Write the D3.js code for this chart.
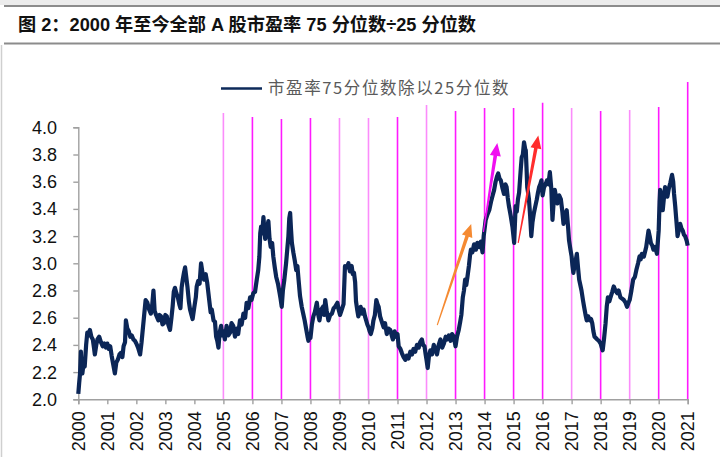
<!DOCTYPE html>
<html>
<head>
<meta charset="utf-8">
<title>市盈率75分位数除以25分位数</title>
<script src="https://cdn.jsdelivr.net/npm/d3@7"></script>
<style>
  body { margin: 0; background: #fff; }
  svg { display: block; }
  text { font-family: "Liberation Sans", Arial, "Noto Sans CJK SC", sans-serif; }
</style>
</head>
<body>
<div id="chart"></div>
<script>
// time in decimal years
const years = [
  2000.00,2000.03,2000.06,2000.09,2000.11,2000.14,2000.18,2000.22,2000.27,2000.31,2000.36,2000.40,2000.45,2000.50,2000.54,2000.57,2000.62,2000.66,2000.72,2000.78,2000.84,2000.90,2000.95,
  2001.00,2001.05,2001.10,2001.15,2001.20,2001.26,2001.31,2001.36,2001.42,2001.46,2001.52,2001.56,2001.61,2001.64,2001.69,2001.74,2001.79,2001.84,2001.90,2001.95,
  2002.00,2002.06,2002.13,2002.18,2002.22,2002.27,2002.32,2002.38,2002.44,2002.50,2002.55,2002.59,2002.63,2002.68,2002.76,2002.80,2002.85,2002.90,2002.95,
  2003.00,2003.05,2003.10,2003.16,2003.21,2003.25,2003.29,2003.33,2003.38,2003.43,2003.48,2003.52,2003.56,2003.60,2003.64,2003.68,2003.72,2003.76,2003.81,2003.85,2003.90,2003.94,
  2004.00,2004.05,2004.08,2004.13,2004.18,2004.23,2004.28,2004.33,2004.39,2004.44,2004.50,2004.56,2004.60,2004.66,2004.71,2004.75,2004.79,2004.83,2004.87,2004.92,2004.96,
  2005.00,2005.05,2005.11,2005.17,2005.23,2005.28,2005.34,2005.40,2005.46,2005.51,2005.57,2005.63,2005.69,2005.75,2005.80,2005.86,2005.92,2005.97,
  2006.03,2006.09,2006.15,2006.20,2006.24,2006.27,2006.30,2006.34,2006.38,2006.41,2006.44,2006.50,2006.55,2006.59,2006.63,2006.68,2006.72,2006.77,2006.82,2006.88,2006.93,2006.97,
  2007.01,2007.05,2007.10,2007.16,2007.20,2007.24,2007.27,2007.30,2007.33,2007.36,2007.41,2007.46,2007.51,2007.55,2007.59,2007.64,2007.70,2007.76,2007.80,2007.85,2007.90,2007.93,2007.97,
  2008.00,2008.05,2008.10,2008.15,2008.22,2008.27,2008.31,2008.37,2008.43,2008.47,2008.51,2008.56,2008.62,2008.68,2008.74,2008.80,2008.85,2008.93,2008.97,
  2009.02,2009.08,2009.14,2009.19,2009.25,2009.31,2009.36,2009.42,2009.46,2009.50,2009.54,2009.57,2009.61,2009.65,2009.69,2009.73,2009.78,2009.83,2009.88,2009.92,2009.96,
  2010.00,2010.04,2010.08,2010.13,2010.17,2010.22,2010.27,2010.31,2010.35,2010.40,2010.46,2010.52,2010.57,2010.63,2010.69,2010.75,2010.80,2010.84,2010.90,2010.95,
  2011.00,2011.04,2011.10,2011.15,2011.21,2011.27,2011.32,2011.38,2011.44,2011.50,2011.55,2011.61,2011.67,2011.73,2011.78,2011.84,2011.88,2011.93,2011.97,
  2012.00,2012.04,2012.08,2012.13,2012.19,2012.25,2012.30,2012.36,2012.42,2012.48,2012.54,2012.60,2012.66,2012.71,2012.77,2012.83,2012.88,2012.94,
  2013.00,2013.05,2013.11,2013.16,2013.20,2013.25,2013.29,2013.33,2013.37,2013.41,2013.46,2013.50,2013.53,2013.58,2013.64,2013.70,2013.75,2013.81,2013.87,2013.93,2013.97,
  2014.04,2014.10,2014.16,2014.22,2014.28,2014.33,2014.38,2014.43,2014.47,2014.52,2014.56,2014.62,2014.67,2014.72,2014.76,2014.80,2014.84,2014.90,2014.96,
  2015.02,2015.07,2015.11,2015.15,2015.19,2015.22,2015.25,2015.28,2015.32,2015.36,2015.40,2015.42,2015.45,2015.47,2015.50,2015.53,2015.57,2015.61,2015.65,2015.70,2015.75,2015.80,2015.84,2015.88,2015.92,2015.96,
  2016.00,2016.05,2016.10,2016.15,2016.20,2016.25,2016.30,2016.34,2016.38,2016.42,2016.47,2016.51,2016.57,2016.63,2016.68,2016.72,2016.78,2016.83,2016.88,2016.91,2016.96,
  2017.00,2017.03,2017.06,2017.10,2017.14,2017.18,2017.22,2017.26,2017.30,2017.34,2017.39,2017.43,2017.48,2017.52,2017.57,2017.63,2017.67,2017.71,2017.75,2017.79,2017.84,2017.88,2017.94,
  2018.00,2018.04,2018.07,2018.12,2018.17,2018.21,2018.25,2018.30,2018.34,2018.40,2018.45,2018.51,2018.57,2018.62,2018.68,2018.74,2018.80,2018.86,2018.91,2018.96,
  2019.00,2019.06,2019.12,2019.18,2019.23,2019.29,2019.34,2019.38,2019.42,2019.49,2019.57,2019.61,2019.65,2019.69,2019.73,2019.78,2019.82,2019.88,2019.94,
  2020.00,2020.03,2020.05,2020.09,2020.14,2020.18,2020.22,2020.26,2020.30,2020.35,2020.40,2020.43,2020.46,2020.50,2020.53,2020.57,2020.60,2020.63,2020.65,2020.70,2020.74,2020.78,2020.83,2020.87,2020.91,2020.96,
  2021.00
];
const ratio = [
  2.04,2.12,2.19,2.35,2.22,2.19,2.26,2.24,2.40,2.49,2.47,2.51,2.46,2.44,2.38,2.33,2.40,2.44,2.46,2.42,2.39,2.41,2.38,
  2.41,2.37,2.39,2.32,2.26,2.19,2.27,2.29,2.33,2.34,2.31,2.39,2.42,2.58,2.52,2.50,2.46,2.47,2.44,2.43,
  2.41,2.38,2.33,2.42,2.51,2.62,2.73,2.71,2.66,2.63,2.70,2.80,2.65,2.62,2.58,2.62,2.61,2.55,2.56,
  2.62,2.61,2.55,2.51,2.60,2.68,2.79,2.82,2.78,2.75,2.70,2.67,2.82,2.88,2.93,2.97,2.90,2.83,2.72,2.66,2.62,2.59,
  2.68,2.75,2.83,2.87,2.85,3.00,2.93,2.88,2.92,2.86,2.75,2.64,2.66,2.58,2.57,2.46,2.43,2.38,2.49,2.54,2.47,
  2.50,2.44,2.54,2.47,2.49,2.56,2.54,2.46,2.52,2.48,2.58,2.55,2.63,2.60,2.71,2.67,2.75,2.73,
  2.78,2.79,2.88,2.95,3.05,3.22,3.27,3.22,3.34,3.25,3.18,3.25,3.31,3.18,3.12,3.15,3.05,2.97,2.90,2.85,2.79,2.74,
  2.68,2.80,2.88,3.00,3.10,3.20,3.33,3.37,3.25,3.15,3.08,3.02,2.95,2.98,2.88,2.76,2.68,2.62,2.58,2.52,2.46,2.43,2.47,
  2.45,2.55,2.61,2.64,2.71,2.62,2.58,2.66,2.68,2.62,2.73,2.65,2.58,2.62,2.63,2.67,2.68,2.71,2.66,
  2.62,2.66,2.70,2.98,2.97,3.00,2.94,2.98,2.92,2.93,2.86,2.72,2.66,2.61,2.64,2.68,2.63,2.66,2.61,2.58,2.55,
  2.53,2.50,2.48,2.52,2.58,2.62,2.73,2.70,2.68,2.61,2.57,2.53,2.56,2.48,2.52,2.51,2.47,2.44,2.50,2.46,
  2.48,2.39,2.37,2.34,2.31,2.29,2.32,2.30,2.35,2.33,2.37,2.35,2.40,2.38,2.42,2.44,2.40,2.39,2.33,
  2.29,2.23,2.31,2.36,2.33,2.40,2.37,2.33,2.40,2.44,2.38,2.41,2.46,2.44,2.47,2.43,2.48,2.46,
  2.39,2.46,2.51,2.57,2.62,2.75,2.80,2.88,2.84,2.90,2.98,3.06,3.10,3.08,3.14,3.10,3.15,3.12,3.16,3.08,3.20,
  3.32,3.36,3.39,3.45,3.50,3.54,3.60,3.64,3.66,3.62,3.61,3.55,3.51,3.58,3.56,3.48,3.42,3.35,3.27,
  3.15,3.42,3.38,3.47,3.52,3.61,3.70,3.78,3.80,3.89,3.84,3.83,3.68,3.56,3.52,3.47,3.35,3.20,3.30,3.37,3.42,3.47,3.52,3.56,3.58,3.61,
  3.50,3.56,3.58,3.61,3.58,3.67,3.55,3.32,3.45,3.54,3.48,3.44,3.50,3.47,3.38,3.29,3.35,3.39,3.26,3.17,3.10,
  3.05,2.98,2.93,2.98,3.02,3.07,2.97,2.88,2.84,2.80,2.73,2.68,2.62,2.58,2.61,2.58,2.59,2.56,2.50,2.46,2.45,2.44,2.43,
  2.41,2.38,2.36,2.45,2.56,2.68,2.75,2.72,2.75,2.79,2.83,2.80,2.78,2.80,2.75,2.74,2.73,2.71,2.68,2.71,
  2.73,2.80,2.88,2.90,2.95,3.00,3.05,3.03,3.07,3.05,3.12,3.18,3.24,3.20,3.15,3.13,3.10,3.12,3.07,
  3.24,3.45,3.54,3.50,3.39,3.48,3.56,3.52,3.49,3.55,3.59,3.62,3.65,3.60,3.51,3.42,3.34,3.26,3.20,3.25,3.29,3.26,3.24,3.21,3.20,3.17,
  3.13
];

const yTicks = [2.0, 2.2, 2.4, 2.6, 2.8, 3.0, 3.2, 3.4, 3.6, 3.8, 4.0];
const xTicks = d3.range(2000, 2022);

// vertical year markers: year, top (in ratio units), bright or pale
const markerYears = [2005, 2006, 2007, 2008, 2009, 2010, 2011, 2012, 2013, 2014, 2015, 2016, 2017, 2018, 2019, 2020, 2021];
const markerTops  = [4.105, 4.076, 4.061, 4.068, 4.068, 4.068, 4.076, 4.164, 4.12, 4.142, 4.142, 4.18, 4.142, 4.12, 4.127, 4.15, 4.333];
const markerPale  = [1, 0, 0, 0, 1, 1, 0, 1, 0, 0, 0, 0, 1, 0, 1, 0, 0];

// arrows: [fromYear, fromValue, toYear, toValue]
const arrowColors = ["#f58a32", "#f00ff0", "#ff2d2d"];
const arrowFrom = [[2012.37, 2.546], [2013.96, 3.23], [2015.16, 3.15]];
const arrowTo   = [[2013.54, 3.29], [2014.44, 3.885], [2015.85, 3.94]];

const W = 720, H = 457;
const margin = { top: 127.3, right: 32.3, bottom: 57.7, left: 78.3 };

const svg = d3.select("#chart").append("svg")
  .attr("width", W)
  .attr("height", H);

// page frame like the report
svg.append("rect").attr("x", 0).attr("y", 0).attr("width", W).attr("height", 5).attr("fill", "#ececec");
svg.append("line").attr("x1", 4).attr("x2", W).attr("y1", 6).attr("y2", 6)
  .attr("stroke", "#8c8c8c").attr("stroke-width", 2);
svg.append("line").attr("x1", 4).attr("x2", W).attr("y1", 43.5).attr("y2", 43.5)
  .attr("stroke", "#8c8c8c").attr("stroke-width", 2);
svg.append("line").attr("x1", 1.5).attr("x2", 1.5).attr("y1", 45).attr("y2", H)
  .attr("stroke", "#cfcfcf").attr("stroke-width", 1.5);

svg.append("text")
  .attr("x", 18).attr("y", 31)
  .style("font-family", "'Liberation Sans', 'Noto Sans CJK SC', sans-serif")
  .style("font-weight", "bold")
  .style("font-size", "18.2px")
  .attr("fill", "#111")
  .text("图 2：2000 年至今全部 A 股市盈率 75 分位数÷25 分位数");

const x = d3.scaleLinear().domain([2000, 2021]).range([margin.left, W - margin.right]);
const y = d3.scaleLinear().domain([2.0, 4.0]).range([H - margin.bottom, margin.top]);

// legend
const lg = svg.append("g").attr("transform", "translate(221,88.5)");
lg.append("line").attr("x1", 0).attr("x2", 41).attr("y1", 0).attr("y2", 0)
  .attr("stroke", "#0d2a5a").attr("stroke-width", 2.6);
lg.append("text").attr("x", 47).attr("y", 0).attr("dy", "0.36em")
  .style("font-family", "'Noto Sans CJK SC', sans-serif")
  .style("font-size", "16.5px")
  .style("letter-spacing", "1.6px")
  .attr("fill", "#5a5a5a")
  .text("市盈率75分位数除以25分位数");

// markers
svg.append("g").selectAll("line")
  .data(markerYears)
  .join("line")
  .attr("x1", d => x(d)).attr("x2", d => x(d))
  .attr("y1", (d, i) => y(markerTops[i]))
  .attr("y2", y(2.0))
  .attr("stroke", (d, i) => markerPale[i] ? "#fb8cfb" : "#ff1aff")
  .attr("stroke-width", 1.6);

// axes
const axisColor = "#a0a0a0";
const gx = svg.append("g").attr("transform", `translate(0,${y(2.0)})`)
  .call(d3.axisBottom(x).tickValues(xTicks).tickSize(5).tickFormat(""));
const gy = svg.append("g").attr("transform", `translate(${margin.left},0)`)
  .call(d3.axisLeft(y).tickValues(yTicks).tickSize(5).tickFormat(""));
[gx, gy].forEach(g => {
  g.select(".domain").attr("stroke", axisColor).attr("stroke-width", 1.4);
  g.selectAll(".tick line").attr("stroke", axisColor).attr("stroke-width", 1.4);
});

svg.append("g").selectAll("text")
  .data(yTicks)
  .join("text")
  .attr("x", 57).attr("y", d => y(d)).attr("dy", "0.36em")
  .attr("text-anchor", "end")
  .style("font-size", "18px")
  .attr("fill", "#111")
  .text(d3.format(".1f"));

svg.append("g").selectAll("text")
  .data(xTicks)
  .join("text")
  .attr("transform", d => `translate(${x(d)},${y(2.0) + 12}) rotate(-90)`)
  .attr("dy", "0.36em")
  .attr("text-anchor", "end")
  .style("font-size", "18px")
  .attr("fill", "#111")
  .text(d => d);

// series
const pts = years.map((t, i) => [t, ratio[i]]);
svg.append("path")
  .datum(pts)
  .attr("fill", "none")
  .attr("stroke", "#0b2657")
  .attr("stroke-width", 4.2)
  .attr("stroke-linejoin", "round")
  .attr("d", d3.line().x(d => x(d[0])).y(d => y(d[1])));

// arrows
function arrowPath(p0, p1) {
  const dx = p1[0] - p0[0], dy = p1[1] - p0[1];
  const len = Math.hypot(dx, dy);
  const ux = dx / len, uy = dy / len, nx = -uy, ny = ux;
  const headL = 13, headW = 5.5, tail = 0.6, neck = 1.8;
  const bx = p1[0] - ux * headL, by = p1[1] - uy * headL;
  const pt = (px, py) => px.toFixed(1) + "," + py.toFixed(1);
  return "M" + [
    pt(p0[0] + nx * tail, p0[1] + ny * tail),
    pt(bx + nx * neck, by + ny * neck),
    pt(bx + nx * headW, by + ny * headW),
    pt(p1[0], p1[1]),
    pt(bx - nx * headW, by - ny * headW),
    pt(bx - nx * neck, by - ny * neck),
    pt(p0[0] - nx * tail, p0[1] - ny * tail)
  ].join("L") + "Z";
}
svg.append("g").selectAll("path")
  .data(arrowColors)
  .join("path")
  .attr("fill", d => d)
  .attr("d", (d, i) => arrowPath(
    [x(arrowFrom[i][0]), y(arrowFrom[i][1])],
    [x(arrowTo[i][0]), y(arrowTo[i][1])]));
</script>
</body>
</html>
